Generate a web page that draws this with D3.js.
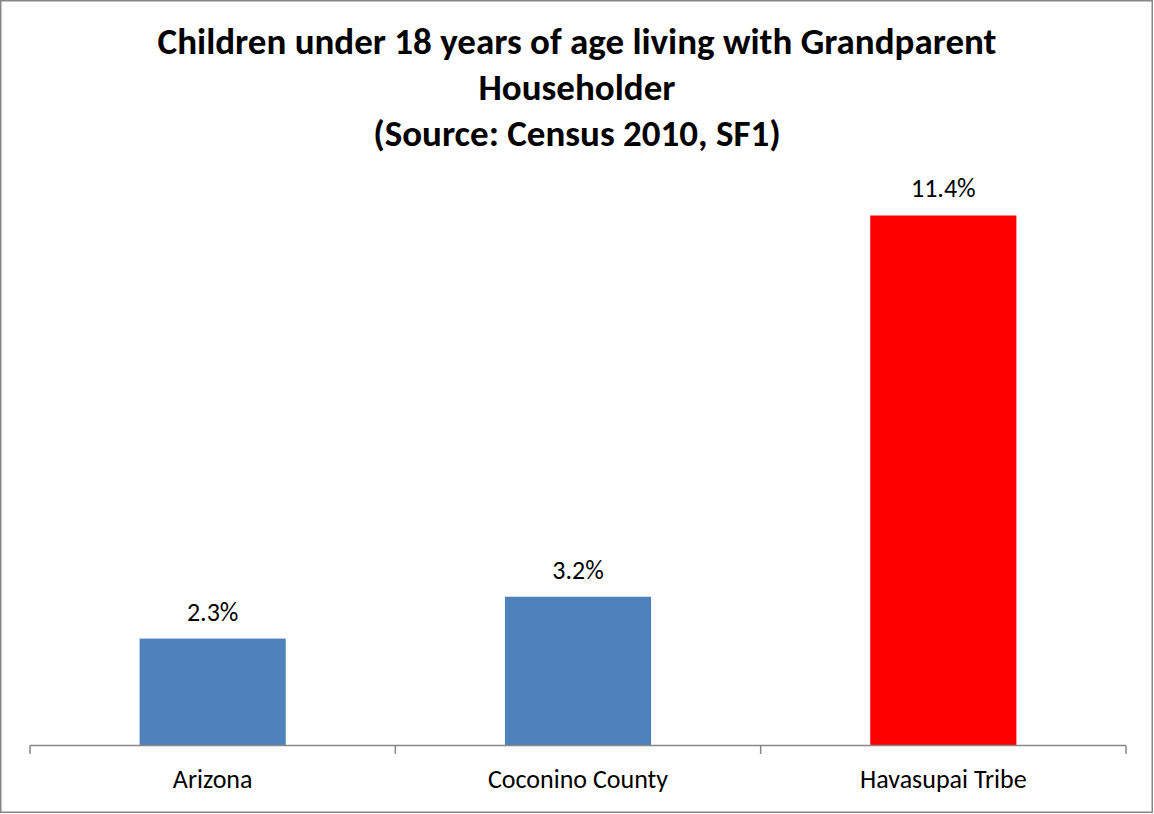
<!DOCTYPE html>
<html><head><meta charset="utf-8">
<script src="https://cdn.jsdelivr.net/npm/d3@7"></script>
<style>body{margin:0;background:#fff}svg{display:block}</style>
</head><body>
<svg id="c" width="1154" height="814"></svg>
<script>
const categories = ["Arizona", "Coconino County", "Havasupai Tribe"];
const values = [2.3, 3.2, 11.4];
const valueLabels = ["2.3%", "3.2%", "11.4%"];
const barColors = ["#4f81bd", "#4f81bd", "#ff0000"];
const titleLines = ["Children under 18 years of age living with Grandparent", "Householder", "(Source: Census 2010, SF1)"];

const svg = d3.select("#c");
const font = "Carlito, 'Open Sans', 'Noto Sans', sans-serif";
svg.append("rect").attr("x",0.75).attr("y",0.75).attr("width",1151.5).attr("height",811.5)
  .attr("fill","#fff").attr("stroke","#878787").attr("stroke-width",1.5);

const x = d3.scaleBand().domain(categories).range([30,1126]).paddingInner(0.6).paddingOuter(0.3);
const y = d3.scaleLinear().domain([0,12]).range([745.5, 187.6]);

svg.selectAll("text.title").data(titleLines).join("text").attr("class","title")
  .attr("x",577).attr("y",(d,i)=>54+i*46).attr("text-anchor","middle")
  .attr("font-family",font).attr("font-weight","bold").attr("font-size",37).attr("fill","#000")
  .text(d=>d);

svg.selectAll("rect.bar").data(values).join("rect").attr("class","bar")
  .attr("x",(d,i)=>x(categories[i])).attr("width",x.bandwidth())
  .attr("y",d=>y(d)).attr("height",d=>y(0)-y(d)).attr("fill",(d,i)=>barColors[i]);

svg.selectAll("text.val").data(values).join("text").attr("class","val")
  .attr("x",(d,i)=>x(categories[i])+x.bandwidth()/2).attr("y",d=>y(d)-18)
  .attr("text-anchor","middle").attr("font-family",font).attr("font-size",26).attr("fill","#000")
  .text((d,i)=>valueLabels[i]);

// axis
const step = x.step();
const bounds = [30, 30+step, 30+2*step, 30+3*step];
const ax = svg.append("g");
ax.append("line").attr("x1",30).attr("x2",30+3*step).attr("y1",745.5).attr("y2",745.5)
  .attr("stroke","#888").attr("stroke-width",1.5);
ax.selectAll("line.t").data(bounds).join("line").attr("class","t")
  .attr("x1",d=>d).attr("x2",d=>d).attr("y1",745.5).attr("y2",754)
  .attr("stroke","#888").attr("stroke-width",1.5);
ax.selectAll("text").data(categories).join("text")
  .attr("x",d=>x(d)+x.bandwidth()/2).attr("y",788).attr("text-anchor","middle")
  .attr("font-family",font).attr("font-size",26).attr("fill","#000").text(d=>d);
</script>
</body></html>
